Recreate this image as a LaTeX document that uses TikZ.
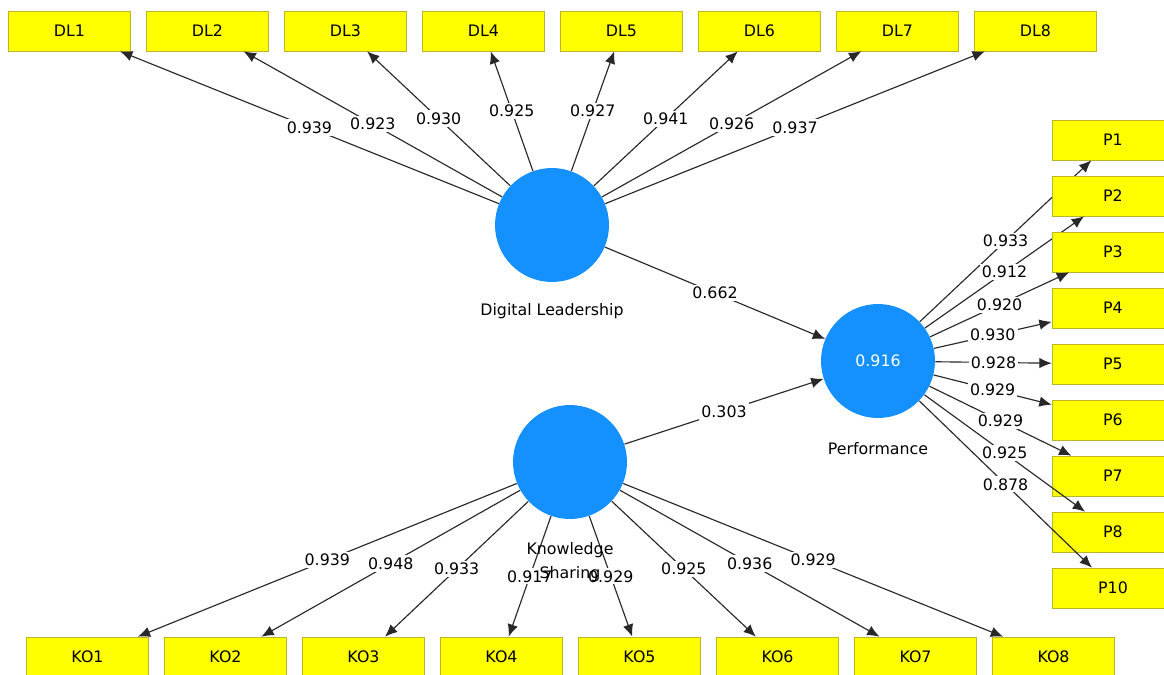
\documentclass[tikz,border=0pt]{standalone}
\usepackage{fontspec}
\setmainfont{DejaVu Sans}
\usetikzlibrary{arrows.meta}
\definecolor{lvblue}{RGB}{20,144,255}
\definecolor{itemyellow}{RGB}{255,255,0}
\definecolor{itemline}{RGB}{190,180,40}
\definecolor{linkgray}{RGB}{40,40,40}
\begin{document}
\begin{tikzpicture}[x=0.02cm, y=-0.02cm,
  every node/.style = {font=\fontsize{9}{13.6}\selectfont},
  item/.style = {shape=rectangle, draw=itemline, fill=itemyellow,
    minimum width=2.44cm, minimum height=0.8cm, inner sep=0pt},
  latent/.style = {shape=circle, fill=lvblue, minimum size=2.28cm, inner sep=0pt},
  load/.style = {fill=white, inner sep=1.2pt},
  link/.style = {draw=linkgray, line width=0.65pt, -{Latex[length=7pt,width=6pt]}}
  ]
  \clip (0,0) rectangle (1164,674);
  \node[latent] (DL) at (552,225) {};
  \node[latent, text=white] (PF) at (878,361) {0.916};
  \node[latent] (KS) at (570,462) {};
  \foreach \i/\v in {1/0.939, 2/0.923, 3/0.930, 4/0.925, 5/0.927, 6/0.941, 7/0.926, 8/0.937}{
    \node[item] (DL\i) at ({69.5+138*(\i-1)},31) {DL\i};
    \draw[link] (DL) -- node[load] {\v} (DL\i);
  }
  \foreach \i/\v in {1/0.939, 2/0.948, 3/0.933, 4/0.917, 5/0.929, 6/0.925, 7/0.936, 8/0.929}{
    \node[item] (KO\i) at ({87.5+138*(\i-1)},657) {KO\i};
    \draw[link] (KS) -- node[load] {\v} (KO\i);
  }
  \foreach \i/\n/\v in {1/1/0.933, 2/2/0.912, 3/3/0.920, 4/4/0.930, 5/5/0.928, 6/6/0.929, 7/7/0.929, 8/8/0.925, 9/10/0.878}{
    \node[item] (P\n) at (1113,{140+56*(\i-1)}) {P\n};
    \draw[link] (PF) -- node[load] {\v} (P\n);
  }
  \draw[link] (DL) -- node[load] {0.662} (PF);
  \draw[link] (KS) -- node[load] {0.303} (PF);
  \node (DLname) at (552,311) {Digital Leadership};
  \node (PFname) at (878,449) {Performance};
  \node[align=center] (KSname) at (570,562) {Knowledge\\Sharing};
\end{tikzpicture}
\end{document}
